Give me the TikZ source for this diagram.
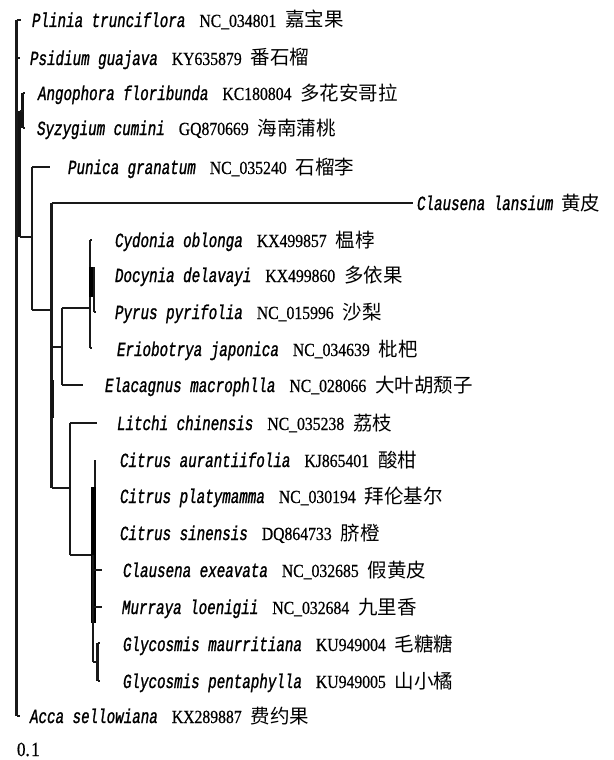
\documentclass[tikz,border=0pt]{standalone}
\usepackage{fontspec}
\newfontfamily\spfont[FakeStretch=0.71,FakeBold=1.2]{Liberation Mono}
\newfontfamily\accfont[FakeStretch=0.85,FakeBold=0.6]{Liberation Serif}
\newfontfamily\cjkfont{Noto Sans CJK SC}
\newcommand{\spn}[1]{{\fontsize{20}{22}\spfont\itshape #1}}
\newcommand{\acc}[1]{{\fontsize{18.5}{22}\accfont #1}}
\newcommand{\cjn}[1]{{\fontsize{19.5}{22}\cjkfont #1}}
\newcommand{\leafl}[3]{\spn{#1}\hspace{14pt}\acc{#2}\hspace{9pt}\cjn{#3}}
\tikzset{
  br/.style={line width=2.1pt, draw=black!90},
  thickbr/.style={line width=4.6pt, draw=black},
  midbr/.style={line width=3pt, draw=black!92},
  lab/.style={anchor=base west, inner sep=0pt, outer sep=0pt}
}
\begin{document}
\begin{tikzpicture}[x=1pt,y=-1pt]
\useasboundingbox (0,0) rectangle (613,760);
% ---- internal nodes / coordinates
\coordinate (rT) at (16.5,20);   \coordinate (rB) at (16.5,716);
\coordinate (aT) at (22.5,93);   \coordinate (aB) at (22.5,128);
\coordinate (bT) at (19.5,111);  \coordinate (bB) at (19.5,237);
\coordinate (cT) at (32,167);    \coordinate (cB) at (32,310);
\coordinate (dT) at (51.5,203);  \coordinate (dB) at (51.5,488);
\coordinate (eT) at (62,308);    \coordinate (eB) at (62,385);
\coordinate (fT) at (90,240);    \coordinate (fB) at (90,348);
\coordinate (gT) at (94,267);    \coordinate (gB) at (94,312);
\coordinate (hT) at (70,423);    \coordinate (hB) at (70,555);
\coordinate (iT) at (93,555);    \coordinate (iB) at (93,662);
\coordinate (jT) at (97.5,643);  \coordinate (jB) at (97.5,681);
% ---- tips
\coordinate (t1) at (21,20);
\coordinate (t2) at (20,58);
\coordinate (t3) at (25,93);
\coordinate (t4) at (25,128);
\coordinate (t5) at (50,167);
\coordinate (t6) at (413,203);
\coordinate (t7) at (92,240);
\coordinate (t9) at (96,312);
\coordinate (t10) at (92,348);
\coordinate (t11) at (83,385);
\coordinate (t12) at (97,423);
\coordinate (t16) at (102,570);
\coordinate (t17) at (102,607);
\coordinate (t18) at (100,643);
\coordinate (t19) at (100,681);
\coordinate (t20) at (20,716);
% ---- branches
\draw[br] (rT) -- (rB);
\draw[br] (rT) -- (t1);
\draw[br] (rB |- t2) -- (t2);
\draw[br] (rB) -- (t20);
\draw[midbr] (aT) -- (aB);
\draw[br] (aT) -- (t3);
\draw[br] (aB) -- (t4);
\draw[midbr] (bT) -- (bB);
\draw[br] (bT) -- (bT -| aT);
\draw[br] (bB) -- (bB -| cT);
\draw[br] (cT) -- (cB);
\draw[br] (cT) -- (t5);
\draw[br] (cB) -- (cB -| dT);
\draw[br] (dT) -- (dB);
\draw[br] (dT) -- (t6);
\draw[midbr] (52,380) -- (52,418);
\draw[br] (dT |- 0,347) -- (eT |- 0,347);
\draw[br] (eT) -- (eB);
\draw[br] (eB) -- (t11);
\draw[br] (eT) -- (eT -| fT);
\draw[br] (fT) -- (fB);
\draw[br] (fT) -- (t7);
\draw[br] (fB) -- (t10);
\draw[thickbr] (91.5,267) -- (91.5,297);
\draw[br] (gT) -- (gB);
\draw[br] (gB) -- (t9);
\draw[br] (dB) -- (dB -| hT);
\draw[br] (hT) -- (hB);
\draw[br] (hT) -- (t12);
\draw[br] (hB) -- (iT);
\draw[br] (95,460) -- (95,530);
\draw[thickbr] (93.5,487) -- (93.5,623);
\draw[br] (iT) -- (iB);
\draw[br] (iT |- t16) -- (t16);
\draw[br] (iT |- t17) -- (t17);
\draw[br] (iB) -- (iB -| jT);
\draw[br] (jT) -- (jB);
\draw[br] (jT) -- (t18);
\draw[br] (jB) -- (t19);
% ---- labels
\node[lab] (L1)  at (32,27)   {\leafl{Plinia trunciflora}{NC\_034801}{嘉宝果}};
\node[lab] (L2)  at (30,65)   {\leafl{Psidium guajava}{KY635879}{番石榴}};
\node[lab] (L3)  at (38,100)  {\leafl{Angophora floribunda}{KC180804}{多花安哥拉}};
\node[lab] (L4)  at (37,135)  {\leafl{Syzygium cumini}{GQ870669}{海南蒲桃}};
\node[lab] (L5)  at (68,174)  {\leafl{Punica granatum}{NC\_035240}{石榴李}};
\node[lab] (L6)  at (417,210) {\spn{Clausena lansium}\hspace{8pt}\cjn{黄皮}};
\node[lab] (L7)  at (115,247) {\leafl{Cydonia oblonga}{KX499857}{榅桲}};
\node[lab] (L8)  at (115,282) {\leafl{Docynia delavayi}{KX499860}{多依果}};
\node[lab] (L9)  at (115,319) {\leafl{Pyrus pyrifolia}{NC\_015996}{沙梨}};
\node[lab] (L10) at (117,356) {\leafl{Eriobotrya japonica}{NC\_034639}{枇杷}};
\node[lab] (L11) at (105,392) {\leafl{Elacagnus macrophlla}{NC\_028066}{大叶胡颓子}};
\node[lab] (L12) at (117,430) {\leafl{Litchi chinensis}{NC\_035238}{荔枝}};
\node[lab] (L13) at (120,467) {\leafl{Citrus aurantiifolia}{KJ865401}{酸柑}};
\node[lab] (L14) at (120,503) {\leafl{Citrus platymamma}{NC\_030194}{拜伦基尔}};
\node[lab] (L15) at (120,540) {\leafl{Citrus sinensis}{DQ864733}{脐橙}};
\node[lab] (L16) at (123,577) {\leafl{Clausena exeavata}{NC\_032685}{假黄皮}};
\node[lab] (L17) at (122,614) {\leafl{Murraya loenigii}{NC\_032684}{九里香}};
\node[lab] (L18) at (123,651) {\leafl{Glycosmis maurritiana}{KU949004}{毛糖糖}};
\node[lab] (L19) at (123,688) {\leafl{Glycosmis pentaphylla}{KU949005}{山小橘}};
\node[lab] (L20) at (30,723)  {\leafl{Acca sellowiana}{KX289887}{费约果}};
\node[lab] (scale) at (17,756) {\fontsize{20}{22}\accfont 0.\hspace{1.5pt}1};
\end{tikzpicture}
\end{document}
